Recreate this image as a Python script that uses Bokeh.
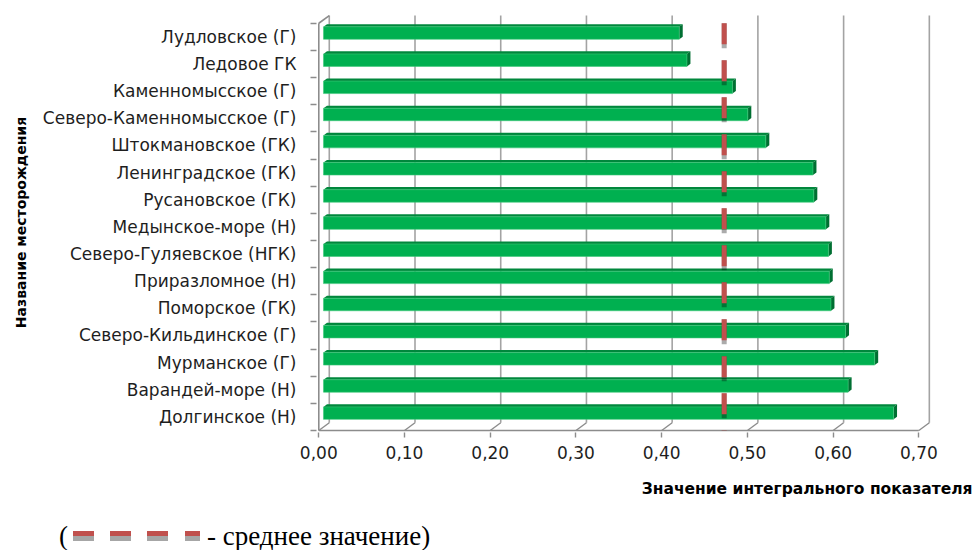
from bokeh.embed import file_html
from bokeh.layouts import column
from bokeh.models import CustomJSTickFormatter, Div, FixedTicker, Range1d, Title
from bokeh.plotting import figure
from bokeh.resources import INLINE

# --- data -------------------------------------------------------------------
fields = [
    "Лудловское (Г)",
    "Ледовое ГК",
    "Каменномысское (Г)",
    "Северо-Каменномысское (Г)",
    "Штокмановское (ГК)",
    "Ленинградское (ГК)",
    "Русановское (ГК)",
    "Медынское-море (Н)",
    "Северо-Гуляевское (НГК)",
    "Приразломное (Н)",
    "Поморское (ГК)",
    "Северо-Кильдинское (Г)",
    "Мурманское (Г)",
    "Варандей-море (Н)",
    "Долгинское (Н)",
]
index_values = [0.415, 0.424, 0.477, 0.495, 0.516, 0.571, 0.572, 0.586,
                0.589, 0.590, 0.592, 0.609, 0.643, 0.612, 0.665]
mean_value = 0.47
x_ticks = [0.0, 0.1, 0.2, 0.3, 0.4, 0.5, 0.6, 0.7]

x_title = "Значение интегрального показателя"
y_title = "Название месторождения"
note_text = "- среднее значение)"

# --- geometry of the pseudo-3D box (pixels -> data units) --------------------
W, H_MAIN, H_NOTE = 974, 515, 35
PX_X = 858.6            # pixels per unit of the value axis
PX_Y = 27.15            # pixels per category row
ZERO_PX = 317.3         # screen x of value 0 on the front edge
FRONT_BOTTOM_PX = 430   # screen y of the front floor edge
FRAME = dict(left=315, right=938, top=12, bottom=432)

n = len(fields)
rows = [n - 1 - k for k in range(n)]          # first field on top
x_max = x_ticks[-1]

wall_dx = 10.5 / PX_X
wall_dy = 7.7 / PX_Y
bar_dx = 4.7 / PX_X
bar_lo, bar_hi = 0.41, 0.87                     # bar face inside a row band
side_dx = 3.5 / PX_X
side_dy = 2.6 / PX_Y

x_start = (FRAME["left"] - ZERO_PX) / PX_X
x_end = (FRAME["right"] - ZERO_PX) / PX_X
y_start = (FRONT_BOTTOM_PX - FRAME["bottom"]) / PX_Y
y_end = (FRONT_BOTTOM_PX - FRAME["top"]) / PX_Y

GRID = "#A3A3A3"
AXIS = "#8C8C8C"
GREEN = "#00B050"
GREEN_TOP = "#00873C"
GREEN_SIDE = "#006F32"
RED = "#C0504D"
TEXT = "#1E1E1E"
FONT = "DejaVu Sans"

p = figure(
    width=W, height=H_MAIN,
    x_range=Range1d(x_start, x_end), y_range=Range1d(y_start, y_end),
    output_backend="svg", toolbar_location=None,
    min_border_left=FRAME["left"], min_border_right=W - FRAME["right"],
    min_border_top=FRAME["top"], min_border_bottom=H_MAIN - FRAME["bottom"],
)
p.outline_line_color = None
p.xgrid.visible = False
p.ygrid.visible = False
p.background_fill_color = "white"
p.border_fill_color = "white"

# back wall grid lines and floor diagonals
p.segment(x0=[t + wall_dx for t in x_ticks], y0=[wall_dy] * len(x_ticks),
          x1=[t + wall_dx for t in x_ticks], y1=[n + wall_dy] * len(x_ticks),
          line_color=GRID, line_width=1.6)
p.segment(x0=x_ticks, y0=[0] * len(x_ticks),
          x1=[t + wall_dx for t in x_ticks], y1=[wall_dy] * len(x_ticks),
          line_color=AXIS, line_width=1.4)
# front edges of the box
p.segment(x0=[0, 0, 0], y0=[0, 0, n], x1=[x_max, 0, wall_dx], y1=[0, n, n + wall_dy],
          line_color=AXIS, line_width=1.6)

# bars: front face, top face and right side face
left = [bar_dx] * n
right = [v + bar_dx for v in index_values]
bottom = [r + bar_lo for r in rows]
top = [r + bar_hi for r in rows]

p.patches(
    xs=[[l, r, r + side_dx, l + side_dx] for l, r in zip(left, right)],
    ys=[[t, t, t + side_dy, t + side_dy] for t in top],
    fill_color=GREEN_TOP, line_color=None,
)
p.patches(
    xs=[[r, r + side_dx, r + side_dx, r] for r in right],
    ys=[[b, b + side_dy, t + side_dy, t] for b, t in zip(bottom, top)],
    fill_color=GREEN_SIDE, line_color=None,
)
p.quad(left=left, right=right, bottom=bottom, top=top,
       fill_color=GREEN, line_color="#3CC878", line_width=0.6)

# mean value: dashed marker with a soft shadow under each dash
mean_x = mean_value + 2.5 / PX_X
p.line([mean_x, mean_x], [n, 0], line_color="black", line_alpha=0.33,
       line_width=5, line_dash="25 12", line_cap="butt")
p.line([mean_x, mean_x], [n, 0], line_color=RED,
       line_width=5, line_dash="21 16", line_cap="butt")

# value axis
xa = p.xaxis[0]
xa.ticker = FixedTicker(ticks=x_ticks, minor_ticks=[])
xa.formatter = CustomJSTickFormatter(code="return tick.toFixed(2).replace('.', ',');")
xa.axis_line_color = None
xa.major_tick_line_color = AXIS
xa.major_tick_line_width = 1.4
xa.major_tick_out = 5
xa.major_tick_in = 0
xa.major_label_standoff = 8
xa.major_label_text_font = FONT
xa.major_label_text_font_size = "17px"
xa.major_label_text_color = TEXT

# category axis
ya = p.yaxis[0]
ya.ticker = FixedTicker(ticks=[i + 0.5 for i in range(n)], minor_ticks=list(range(n + 1)))
ya.formatter = CustomJSTickFormatter(args=dict(names=fields[::-1]),
                                     code="return names[Math.round(tick - 0.5)];")
ya.axis_line_color = None
ya.major_tick_line_color = None
ya.major_tick_out = 0
ya.major_tick_in = 0
ya.minor_tick_line_color = AXIS
ya.minor_tick_line_width = 1.4
ya.minor_tick_out = 6
ya.minor_tick_in = 0
ya.major_label_standoff = 14
ya.major_label_text_font = FONT
ya.major_label_text_font_size = "17px"
ya.major_label_text_color = TEXT

# axis titles
p.add_layout(Title(text=x_title, align="right", offset=-34, standoff=32,
                   text_font=FONT, text_font_style="bold", text_font_size="15.5px",
                   text_color="black"), "below")
p.add_layout(Title(text=y_title, align="center", standoff=21,
                   text_font=FONT, text_font_style="bold", text_font_size="14px",
                   text_color="black"), "left")

# --- note line under the chart -------------------------------------------------
def dash(x0, x1):
    return (
        f'<div style="position:absolute;left:{x0}px;top:16px;width:{x1 - x0}px;'
        f'height:5px;background:{RED};"></div>'
        f'<div style="position:absolute;left:{x0}px;top:21px;width:{x1 - x0}px;'
        f'height:5px;background:#A6A6A6;"></div>'
    )


serif = "font-family:'Liberation Serif';font-size:27px;line-height:30px;color:black;"
note_html = (
    f'<div style="position:relative;width:{W}px;height:{H_NOTE}px;">'
    f'<span style="position:absolute;left:59px;top:6px;{serif}">(</span>'
    + dash(72.7, 94) + dash(110, 131) + dash(147, 168) + dash(185, 200)
    + f'<span style="position:absolute;left:207px;top:6px;white-space:nowrap;{serif}">'
    f'{note_text}</span></div>'
)
note = Div(text=note_html, width=W, height=H_NOTE, margin=0)

layout = column(p, note, spacing=0)
open("out.html", "w").write(file_html(layout, INLINE))
